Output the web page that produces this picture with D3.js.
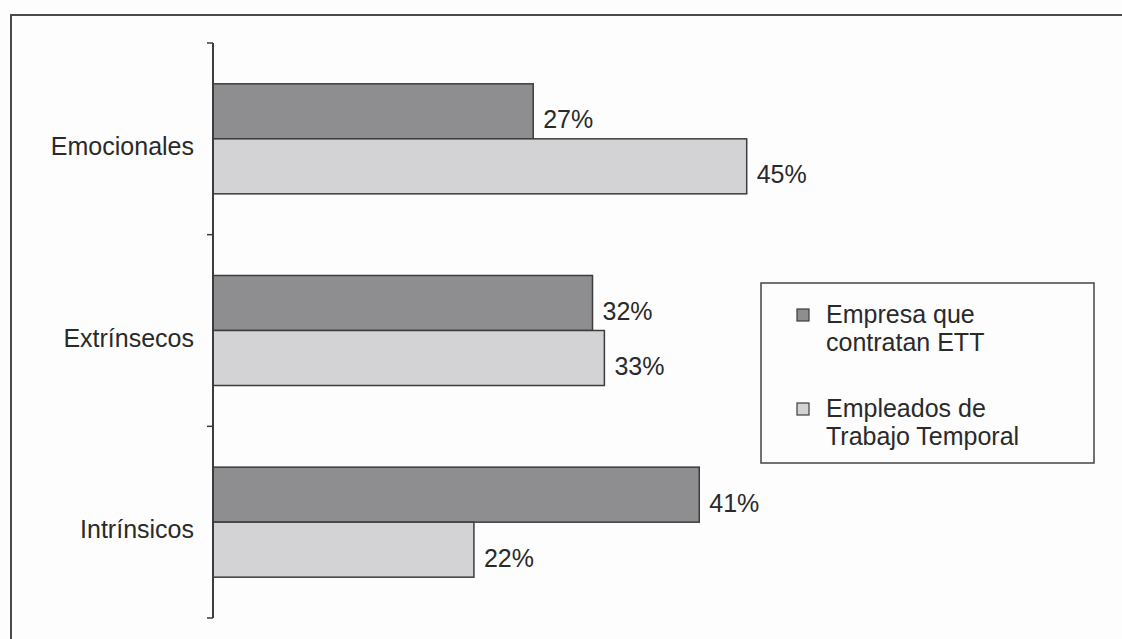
<!DOCTYPE html>
<html><head><meta charset="utf-8">
<script src="https://cdn.jsdelivr.net/npm/d3@7"></script>
<style>body{margin:0;background:#fdfdfd;}svg{display:block;}text{font-family:"Liberation Sans",Arial,sans-serif;fill:#2a2a2a;}</style>
</head><body><svg id="c" width="1122" height="639"></svg>
<script>
const categories = ["Emocionales", "Extrínsecos", "Intrínsicos"];
const seriesNames = ["Empresa que contratan ETT", "Empleados de Trabajo Temporal"];
const legendLines = [["Empresa que", "contratan ETT"], ["Empleados de", "Trabajo Temporal"]];
const empresaValues = [27, 32, 41];
const empleadosValues = [45, 33, 22];
const colors = ["#8e8e91", "#d3d3d5"];

const svg = d3.select("#c");
svg.append("rect").attr("width",1122).attr("height",639).attr("fill","#fdfdfd");
// frame
svg.append("path").attr("d","M11,639 V15 H1122").attr("fill","none").attr("stroke","#4a4a4a").attr("stroke-width",2);

const y = d3.scaleBand().domain(categories).range([43, 618]).paddingInner(0.426).paddingOuter(0.213);
const x = d3.scaleLinear().domain([0, 50]).range([213, 806]);
const sub = d3.scaleBand().domain([0,1]).range([0, y.bandwidth()]);

const data = [];
categories.forEach((c,i)=>{
  data.push({c, s:0, v:empresaValues[i]});
  data.push({c, s:1, v:empleadosValues[i]});
});

svg.selectAll("rect.bar").data(data).join("rect").attr("class","bar")
  .attr("x", x(0)).attr("y", d=>y(d.c)+sub(d.s))
  .attr("width", d=>x(d.v)-x(0)).attr("height", sub.bandwidth())
  .attr("fill", d=>colors[d.s]).attr("stroke","#3c3c3c").attr("stroke-width",1.5);

svg.selectAll("text.val").data(data).join("text").attr("class","val")
  .attr("x", d=>x(d.v)+10).attr("y", d=>y(d.c)+sub(d.s)+sub.bandwidth()/2+17)
  .attr("font-size",25).text(d=>d.v+"%");

// axis
const axisY = d3.scaleLinear().domain([0,3]).range([43,618]);
svg.append("line").attr("x1",x(0)).attr("x2",x(0)).attr("y1",43).attr("y2",618).attr("stroke","#3c3c3c").attr("stroke-width",2);
svg.selectAll("line.tick").data([0,1,2,3]).join("line").attr("class","tick")
  .attr("x1",x(0)-6).attr("x2",x(0)).attr("y1",d=>axisY(d)).attr("y2",d=>axisY(d)).attr("stroke","#3c3c3c").attr("stroke-width",1.5);

svg.selectAll("text.cat").data(categories).join("text").attr("class","cat")
  .attr("x", 194).attr("y", d=>y(d)+y.bandwidth()/2+16)
  .attr("text-anchor","end").attr("font-size",25).text(d=>d);

// legend
const lg = svg.append("g");
lg.append("rect").attr("x",761).attr("y",283).attr("width",333).attr("height",180).attr("fill","#fdfdfd").attr("stroke","#444").attr("stroke-width",1.5);
legendLines.forEach((lines,i)=>{
  const by = 323 + i*94;
  lg.append("rect").attr("x",797).attr("y",by-14).attr("width",12).attr("height",12).attr("fill",colors[i]).attr("stroke","#3c3c3c").attr("stroke-width",1.2);
  lines.forEach((t,j)=>{
    lg.append("text").attr("x",826).attr("y",by+j*28).attr("font-size",25).text(t);
  });
});
</script></body></html>
